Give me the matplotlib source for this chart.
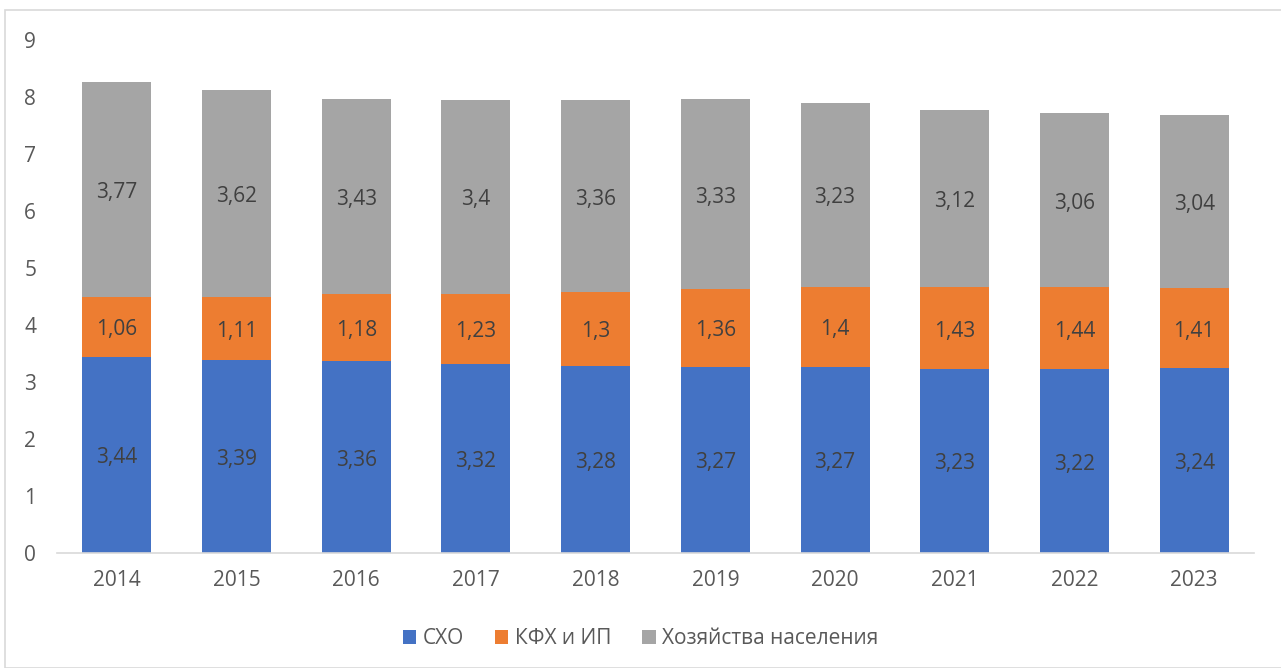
import matplotlib
matplotlib.use("Agg")
import matplotlib.pyplot as plt
from matplotlib.patches import Rectangle, Patch
from matplotlib.transforms import offset_copy

years = ["2014", "2015", "2016", "2017", "2018", "2019", "2020", "2021", "2022", "2023"]
sho = [3.44, 3.39, 3.36, 3.32, 3.28, 3.27, 3.27, 3.23, 3.22, 3.24]
kfh = [1.06, 1.11, 1.18, 1.23, 1.3, 1.36, 1.4, 1.43, 1.44, 1.41]
hoz = [3.77, 3.62, 3.43, 3.4, 3.36, 3.33, 3.23, 3.12, 3.06, 3.04]
series_names = ["СХО", "КФХ и ИП", "Хозяйства населения"]
colors = ["#4472C4", "#ED7D31", "#A5A5A5"]

plt.rcParams['font.family'] = ['Open Sans', 'DejaVu Sans']
FS = 15

W, H = 1281, 668
fig = plt.figure(figsize=(W / 100, H / 100), dpi=100)
fig.patches.append(Rectangle((5 / W, 0), 1.0, 1 - 10 / H, transform=fig.transFigure,
                             fill=False, edgecolor="#D9D9D9", linewidth=1.2))

ax = fig.add_axes([57 / W, (H - 553) / H, (1254 - 57) / W, (553 - 40) / H])
lbl_tr = offset_copy(ax.transData, fig=fig, x=0, y=-3, units="dots")
x = list(range(len(years)))
bw = 0.577
bottoms = [0] * len(years)
for vals, name, col in zip([sho, kfh, hoz], series_names, colors):
    ax.bar(x, vals, bw, bottom=bottoms, color=col, label=name, zorder=2)
    for xi, b, v in zip(x, bottoms, vals):
        ax.text(xi, b + v / 2, f"{v:g}".replace(".", ","), ha="center", va="center",
                fontsize=FS, color="#404040", transform=lbl_tr)
    bottoms = [b + v for b, v in zip(bottoms, vals)]

ax.set_xlim(-0.5, len(years) - 0.5)
ax.set_ylim(0, 9)
ax.set_yticks(range(0, 10))
ax.set_xticks(x)
ax.set_xticklabels(years)
for s in ["top", "right", "left"]:
    ax.spines[s].set_visible(False)
ax.spines["bottom"].set_color("#D9D9D9")
ax.spines["bottom"].set_linewidth(1.2)
ax.tick_params(axis="both", length=0, labelsize=FS, labelcolor="#595959")
ax.tick_params(axis="y", pad=15)
ax.tick_params(axis="x", pad=12)

handles = [Patch(facecolor=c, label=n) for c, n in zip(colors, series_names)]
fig.legend(handles=handles, loc="center", bbox_to_anchor=(0.5, 1 - 639 / H), ncol=3,
           frameon=False, fontsize=FS, handlelength=0.65, handleheight=0.65,
           handletextpad=0.3, columnspacing=1.5, labelcolor="#595959")

fig.savefig("out.png", dpi=100)
